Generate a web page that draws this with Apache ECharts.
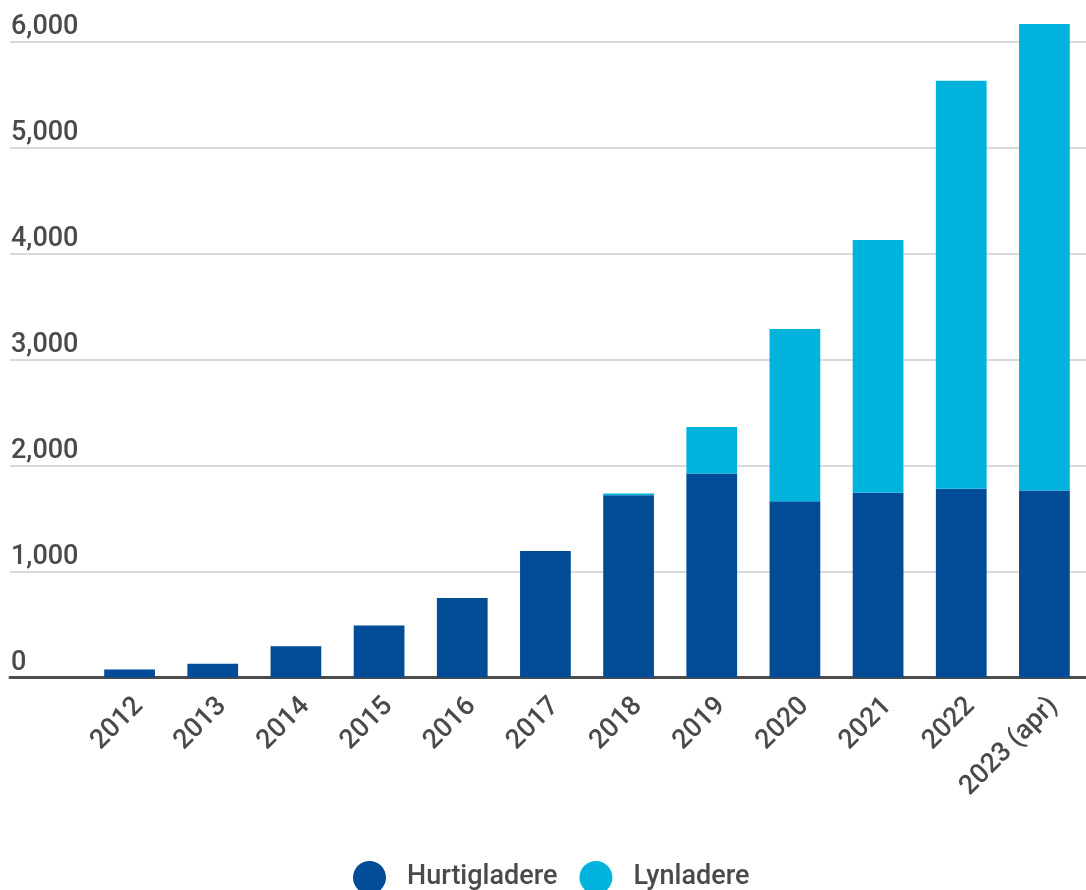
<!DOCTYPE html>
<html>
<head>
<meta charset="utf-8">
<script src="https://cdn.jsdelivr.net/npm/echarts@6/dist/echarts.min.js"></script>
<style>
  html, body { margin: 0; padding: 0; background: #ffffff; }
  #chart { width: 1086px; height: 890px; }
</style>
</head>
<body>
<div id="chart"></div>
<script>
// Charging points per year
const years = ['2012', '2013', '2014', '2015', '2016', '2017', '2018', '2019', '2020', '2021', '2022', '2023 (apr)'];
const hurtigladere = [75, 130, 295, 490, 750, 1195, 1720, 1925, 1665, 1745, 1783, 1765];
const lynladere = [0, 0, 0, 0, 0, 0, 18, 440, 1625, 2385, 3850, 4405];
const yTicks = [0, 1000, 2000, 3000, 4000, 5000, 6000];

const FONT = 'Roboto, "Noto Sans", sans-serif';
const DARK = '#014b97';
const LIGHT = '#00b3dd';
const TEXT = '#4a4a4a';

const chart = echarts.init(document.getElementById('chart'), null, { renderer: 'canvas' });

const gridTop = 42;
const gridBottom = 212.5;

chart.setOption({
  animation: false,
  backgroundColor: '#ffffff',
  grid: [
    // bars
    { left: 88, right: 0, top: gridTop, bottom: gridBottom, containLabel: false },
    // value scale, gridlines and baseline across the full width
    { left: 10, right: 0, top: gridTop, bottom: gridBottom, containLabel: false }
  ],
  legend: {
    data: ['Hurtigladere', 'Lynladere'],
    top: 856,
    left: 348,
    icon: 'circle',
    itemWidth: 33,
    itemHeight: 33,
    itemGap: 22,
    textStyle: {
      fontFamily: FONT,
      fontSize: 27,
      fontWeight: 500,
      color: TEXT,
      padding: [0, 0, 0, 16]
    }
  },
  xAxis: [
    {
      type: 'category',
      gridIndex: 0,
      data: years,
      boundaryGap: true,
      axisLine: { show: false },
      axisTick: { show: false },
      axisLabel: {
        rotate: 45,
        margin: 15,
        verticalAlign: 'top',
        fontFamily: FONT,
        fontSize: 27,
        fontWeight: 500,
        color: TEXT,
        interval: 0
      }
    },
    {
      type: 'value',
      gridIndex: 1,
      min: 0,
      max: 1,
      axisLine: { show: true, onZero: false, lineStyle: { color: '#4d4d4d', width: 3 } },
      axisTick: { show: false },
      axisLabel: { show: false },
      splitLine: { show: false }
    }
  ],
  yAxis: [
    {
      type: 'value',
      gridIndex: 0,
      min: 0,
      max: 6000,
      interval: 1000,
      axisLine: { show: false },
      axisTick: { show: false },
      axisLabel: { show: false },
      splitLine: { show: false }
    },
    {
      type: 'value',
      gridIndex: 1,
      min: yTicks[0],
      max: yTicks[yTicks.length - 1],
      interval: 1000,
      axisLine: { show: false },
      axisTick: { show: false },
      splitLine: { show: true, lineStyle: { color: '#dadada', width: 2 } },
      axisLabel: {
        inside: true,
        margin: 1,
        align: 'left',
        verticalAlign: 'bottom',
        padding: [0, 0, 1, 0],
        fontFamily: FONT,
        fontSize: 27,
        fontWeight: 500,
        color: TEXT,
        formatter: v => v.toLocaleString('en-US')
      }
    }
  ],
  series: [
    {
      name: 'Hurtigladere',
      type: 'bar',
      stack: 'total',
      xAxisIndex: 0,
      yAxisIndex: 0,
      barWidth: '61%',
      clip: false,
      itemStyle: { color: DARK },
      data: hurtigladere
    },
    {
      name: 'Lynladere',
      type: 'bar',
      stack: 'total',
      xAxisIndex: 0,
      yAxisIndex: 0,
      barWidth: '61%',
      clip: false,
      itemStyle: { color: LIGHT },
      data: lynladere
    }
  ]
});
</script>
</body>
</html>
